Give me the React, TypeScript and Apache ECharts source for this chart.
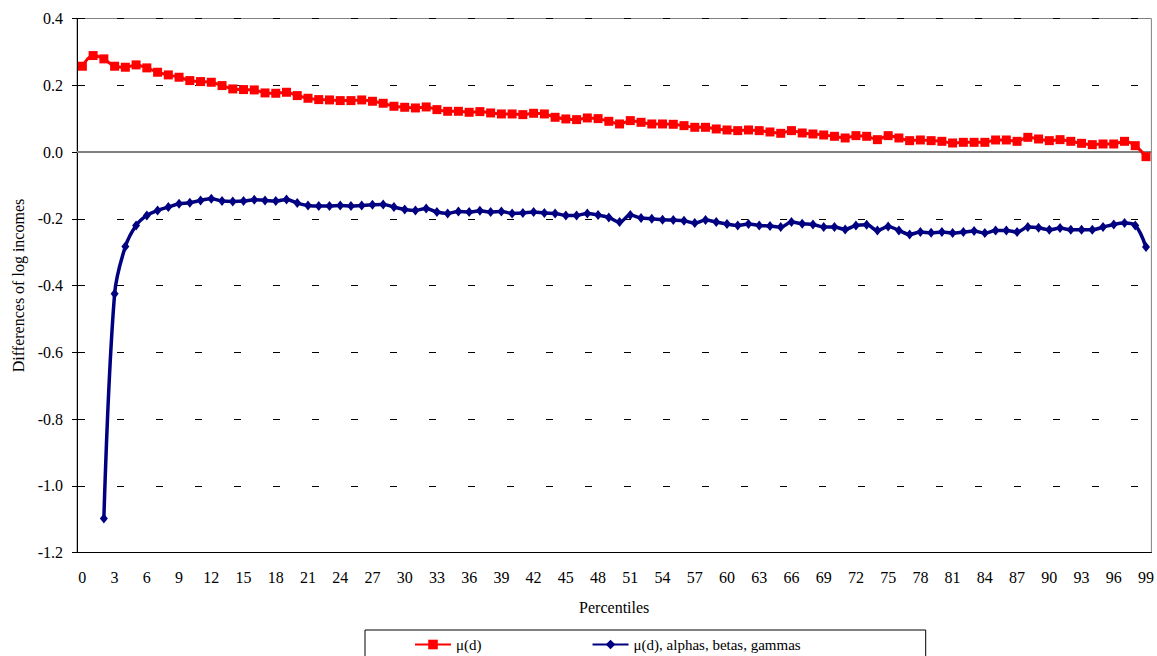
import React, { useEffect, useRef } from "react";
import * as echarts from "echarts";

const percentiles: string[] = Array.from({ length: 100 }, (_, i) => String(i));

const muD: number[] = [
  0.257, 0.289, 0.279, 0.257, 0.254, 0.261, 0.252, 0.239, 0.231, 0.224,
  0.214, 0.211, 0.209, 0.199, 0.189, 0.187, 0.186, 0.177, 0.176, 0.179,
  0.169, 0.161, 0.157, 0.156, 0.154, 0.154, 0.156, 0.152, 0.146, 0.137,
  0.134, 0.132, 0.135, 0.127, 0.122, 0.122, 0.119, 0.121, 0.117, 0.114,
  0.114, 0.112, 0.116, 0.114, 0.104, 0.099, 0.097, 0.102, 0.100, 0.092,
  0.084, 0.094, 0.089, 0.084, 0.084, 0.083, 0.079, 0.074, 0.074, 0.069,
  0.066, 0.064, 0.066, 0.064, 0.060, 0.056, 0.064, 0.057, 0.054, 0.051,
  0.047, 0.042, 0.049, 0.047, 0.037, 0.049, 0.042, 0.034, 0.036, 0.034,
  0.032, 0.027, 0.029, 0.029, 0.029, 0.036, 0.036, 0.032, 0.044, 0.039,
  0.034, 0.037, 0.032, 0.026, 0.022, 0.024, 0.024, 0.032, 0.019, -0.014,
];

const muDAbg: (number | null)[] = [
  null, null, -1.098, -0.425, -0.283, -0.22, -0.19, -0.175, -0.165, -0.155,
  -0.152, -0.145, -0.14, -0.147, -0.148, -0.147, -0.143, -0.145, -0.147, -0.142,
  -0.153, -0.16, -0.162, -0.162, -0.16, -0.162, -0.16, -0.158, -0.157, -0.165,
  -0.172, -0.175, -0.169, -0.18, -0.184, -0.178, -0.18, -0.176, -0.18, -0.178,
  -0.184, -0.183, -0.18, -0.183, -0.184, -0.19, -0.19, -0.184, -0.189, -0.196,
  -0.21, -0.189, -0.198, -0.2, -0.203, -0.204, -0.206, -0.213, -0.204, -0.21,
  -0.216, -0.22, -0.216, -0.22, -0.222, -0.225, -0.21, -0.215, -0.217, -0.225,
  -0.225, -0.232, -0.22, -0.218, -0.235, -0.223, -0.235, -0.247, -0.24, -0.242,
  -0.24, -0.243, -0.24, -0.237, -0.243, -0.235, -0.235, -0.24, -0.225, -0.227,
  -0.233, -0.228, -0.233, -0.233, -0.233, -0.225, -0.217, -0.213, -0.22, -0.285,
];

const seriesNames = ["μ(d)", "μ(d), alphas, betas, gammas"];
const yMin = -1.2;
const yMax = 0.4;
const yStep = 0.2;

const FONT = "Liberation Serif";

export default function App() {
  const ref = useRef<HTMLDivElement>(null);
  useEffect(() => {
    if (!ref.current) return;
    const chart = echarts.init(ref.current, null, { renderer: "svg" });
    chart.setOption({
      animation: false,
      backgroundColor: "#ffffff",
      textStyle: { fontFamily: FONT, color: "#000" },
      grid: {
        left: 77,
        right: 4,
        top: 18.5,
        bottom: 103.5,
        show: true,
        borderColor: "#808080",
        borderWidth: 1,
        backgroundColor: "transparent",
      },
      legend: {
        data: seriesNames,
        left: 365,
        top: 630,
        orient: "horizontal",
        padding: [7, 125, 20, 49],
        itemGap: 110,
        itemWidth: 36,
        itemHeight: 12,
        borderColor: "#000",
        borderWidth: 1,
        textStyle: { fontFamily: FONT, fontSize: 15, color: "#000" },
      },
      xAxis: {
        type: "category",
        data: percentiles,
        boundaryGap: true,
        name: "Percentiles",
        nameLocation: "middle",
        nameGap: 47,
        nameTextStyle: { fontFamily: FONT, fontSize: 16, color: "#000" },
        axisLine: { onZero: false, lineStyle: { color: "#000", width: 1 } },
        axisTick: { show: false },
        axisLabel: {
          interval: 2,
          margin: 17,
          fontFamily: FONT,
          fontSize: 16,
          color: "#000",
        },
        splitLine: { show: false },
      },
      yAxis: {
        type: "value",
        min: yMin,
        max: yMax,
        interval: yStep,
        name: "Differences of log incomes",
        nameLocation: "middle",
        nameGap: 50,
        nameTextStyle: { fontFamily: FONT, fontSize: 16, color: "#000" },
        axisLine: { show: true, lineStyle: { color: "#000", width: 1 } },
        axisTick: { show: true, length: 5, lineStyle: { color: "#000" } },
        axisLabel: {
          margin: 14,
          fontFamily: FONT,
          fontSize: 16,
          color: "#000",
          formatter: (v: number) => (Math.abs(v) < 1e-9 ? 0 : v).toFixed(1),
        },
        splitLine: {
          show: true,
          lineStyle: { color: "#000", width: 1, type: [7, 32], dashOffset: 38 },
        },
      },
      series: [
        {
          name: seriesNames[0],
          type: "line",
          data: muD,
          smooth: 0.35,
          showAllSymbol: true,
          symbol: "rect",
          symbolSize: 9,
          itemStyle: { color: "#ff0000" },
          lineStyle: { color: "#ff0000", width: 3 },
          z: 3,
          markLine: {
            silent: true,
            symbol: "none",
            label: { show: false },
            lineStyle: { color: "#808080", type: "solid", width: 2 },
            data: [{ yAxis: 0 }],
            z: 1,
          },
        },
        {
          name: seriesNames[1],
          type: "line",
          data: muDAbg,
          smooth: 0.35,
          showAllSymbol: true,
          connectNulls: false,
          symbol: "diamond",
          symbolSize: [8, 10],
          itemStyle: { color: "#000080" },
          lineStyle: { color: "#000080", width: 3.5 },
          z: 4,
        },
      ],
    });
    return () => chart.dispose();
  }, []);
  return (
    <div
      ref={ref}
      style={{ position: "fixed", left: 0, top: 0, width: 1157, height: 656 }}
    />
  );
}
